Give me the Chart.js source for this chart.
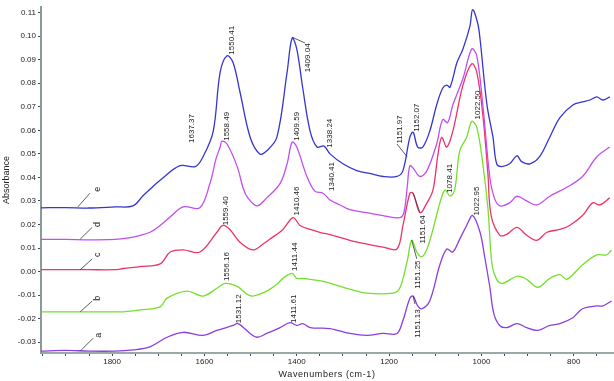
<!DOCTYPE html>
<html>
<head>
<meta charset="utf-8">
<script src="https://cdn.jsdelivr.net/npm/chart.js@4/dist/chart.umd.min.js"></script>
<style>
  html, body { margin: 0; padding: 0; background: #fff; }
  #wrap { width: 614px; height: 381px; }
</style>
</head>
<body>
<div id="wrap"><canvas id="grafico" width="614" height="381"></canvas></div>
<script>
// espectros (numero de onda, absorbancia)
const wnE = [1954,1900,1850,1794,1755,1733,1718,1696,1653,1620,1603,1581,1566,1551,1538,1523,1501,1480,1465,1443,1421,1410,1400,1387,1371,1356,1341,1328,1300,1270,1242,1213,1183,1170,1155,1148,1138,1127,1112,1097,1084,1075,1068,1053,1040,1025,1019,1008,1003,988,975,967,956,939,923,913,895,874,852,830,802,781,765,750,737,722];
const absE = [0.0271,0.0272,0.0270,0.0275,0.0279,0.0322,0.0350,0.0388,0.0450,0.0446,0.0488,0.0596,0.0846,0.0917,0.0888,0.0763,0.0571,0.0500,0.0513,0.0571,0.0846,0.0992,0.0946,0.0779,0.0596,0.0529,0.0533,0.0500,0.0458,0.0429,0.0417,0.0404,0.0404,0.0429,0.0571,0.0592,0.0529,0.0529,0.0596,0.0708,0.0779,0.0792,0.0783,0.0888,0.0946,0.1042,0.1113,0.1054,0.0988,0.0708,0.0571,0.0458,0.0446,0.0458,0.0492,0.0467,0.0458,0.0488,0.0571,0.0654,0.0708,0.0721,0.0729,0.0742,0.0729,0.0742];

const wnD = [1954,1900,1850,1794,1768,1739,1718,1696,1674,1646,1610,1588,1575,1566,1562,1551,1529,1516,1506,1486,1465,1436,1421,1410,1400,1378,1361,1343,1328,1306,1285,1248,1213,1177,1168,1161,1155,1147,1133,1118,1097,1084,1073,1062,1040,1021,1010,997,982,972,960,939,923,902,880,852,815,781,750,722];
const absD = [0.0137,0.0137,0.0135,0.0137,0.0142,0.0154,0.0167,0.0196,0.0233,0.0275,0.0271,0.0375,0.0479,0.0529,0.0554,0.0542,0.0446,0.0354,0.0313,0.0279,0.0313,0.0375,0.0458,0.0550,0.0529,0.0404,0.0342,0.0333,0.0304,0.0283,0.0263,0.0250,0.0238,0.0229,0.0250,0.0354,0.0450,0.0437,0.0404,0.0429,0.0542,0.0646,0.0633,0.0708,0.0820,0.0946,0.0917,0.0708,0.0404,0.0313,0.0279,0.0292,0.0320,0.0300,0.0283,0.0320,0.0358,0.0404,0.0488,0.0529];

const wnC = [1954,1900,1850,1794,1776,1739,1696,1674,1646,1610,1573,1560,1545,1523,1495,1473,1458,1430,1408,1393,1371,1350,1322,1285,1248,1213,1183,1170,1155,1148,1133,1118,1105,1094,1086,1075,1062,1040,1021,1010,997,986,979,960,945,923,902,880,858,830,809,781,759,744,722];
const absC = [0.0008,0.0008,0.0008,0.0008,0.0013,0.0021,0.0033,0.0083,0.0092,0.0083,0.0167,0.0196,0.0179,0.0125,0.0092,0.0117,0.0138,0.0179,0.0229,0.0196,0.0179,0.0167,0.0154,0.0133,0.0117,0.0104,0.0096,0.0196,0.0333,0.0333,0.0250,0.0292,0.0346,0.0500,0.0570,0.0529,0.0596,0.0792,0.0883,0.0846,0.0667,0.0417,0.0238,0.0154,0.0158,0.0188,0.0154,0.0133,0.0167,0.0179,0.0196,0.0238,0.0292,0.0283,0.0313];

const wnB = [1954,1900,1850,1794,1776,1739,1696,1681,1638,1603,1573,1555,1529,1508,1495,1465,1443,1430,1410,1400,1387,1343,1285,1248,1192,1177,1161,1151,1140,1129,1118,1105,1090,1079,1068,1058,1047,1032,1021,1010,997,986,977,967,954,923,902,878,852,830,815,781,750,729,718];
const absB = [-0.0171,-0.0171,-0.0171,-0.0171,-0.0171,-0.0163,-0.0150,-0.0113,-0.0083,-0.0104,-0.0071,-0.0050,-0.0063,-0.0096,-0.0104,-0.0083,-0.0054,-0.0029,-0.0008,-0.0029,-0.0029,-0.0042,-0.0075,-0.0092,-0.0092,-0.0071,0.0042,0.0133,0.0083,0.0063,0.0096,0.0179,0.0292,0.0346,0.0321,0.0346,0.0513,0.0571,0.0638,0.0613,0.0458,0.0271,0.0029,-0.0033,-0.0050,-0.0020,-0.0033,-0.0067,-0.0029,-0.0013,-0.0033,0.0029,0.0071,0.0071,0.0092];

const wnA = [1954,1900,1850,1794,1755,1718,1681,1646,1603,1573,1538,1527,1501,1486,1465,1436,1415,1400,1387,1371,1328,1285,1248,1213,1183,1170,1155,1148,1138,1129,1112,1090,1075,1062,1047,1032,1019,1003,993,982,973,960,945,923,902,878,852,830,802,781,750,737,718];
const absA = [-0.0338,-0.0335,-0.0338,-0.0338,-0.0333,-0.0320,-0.0279,-0.0258,-0.0271,-0.0250,-0.0229,-0.0221,-0.0263,-0.0279,-0.0263,-0.0238,-0.0217,-0.0229,-0.0221,-0.0238,-0.0242,-0.0263,-0.0271,-0.0263,-0.0263,-0.0208,-0.0113,-0.0104,-0.0146,-0.0158,-0.0125,0.0029,0.0096,0.0083,0.0138,0.0196,0.0238,0.0167,0.0063,-0.0063,-0.0180,-0.0230,-0.0238,-0.0221,-0.0238,-0.0250,-0.0229,-0.0221,-0.0196,-0.0158,-0.0146,-0.0146,-0.0125];

const cores = ['#3535d2', '#c24ef0', '#ee3366', '#74e02c', '#8a3ee0'];

// rotulos dos picos (texto, posicao do centro em unidades dos eixos)
const picoTexto = ['1637.37','1550.41','1409.04','1338.24','1558.49','1409.59','1340.41','1151.97','1152.07','1022.50','1078.41','1022.95','1559.40','1410.46','1151.64','1556.16','1411.44','1151.25','1531.12','1411.61','1151.13'];
const picoWn = [1627,1540,1376,1328,1551,1400,1324,1177,1140,1008,1068,1010,1553,1400,1127,1551,1404,1138,1525,1406,1138];
const picoAbs = [0.0608,0.0983,0.0908,0.0588,0.0617,0.0617,0.0404,0.0604,0.0654,0.0708,0.0396,0.0300,0.0258,0.0300,0.0179,0.0021,0.0063,-0.0013,-0.0158,-0.0158,-0.0221];

// letras das curvas
const letraTexto = ['e','d','c','b','a'];
const letraWn = [1832,1832,1832,1832,1830];
const letraAbs = [0.035,0.020,0.0071,-0.0113,-0.0271];

// linhas de chamada: [wn1, abs1, wn2, abs2]
const chamadas = [
  [1410,0.0996,1382,0.0971],
  [1183,0.0542,1161,0.0488],
  [1148,0.0333,1133,0.0250],
  [1151,0.0133,1140,0.0054],
  [1148,-0.0104,1144,-0.0138],
  [1874,0.0275,1848,0.0333],
  [1869,0.0138,1843,0.0188],
  [1869,0.0008,1843,0.0054],
  [1869,-0.0171,1843,-0.0125],
  [1869,-0.0338,1841,-0.0283]
];

function serie(wn, abs, cor) {
    return {
        data: wn.map((w, i) => ({x: w, y: abs[i]})),
        borderColor: cor,
        borderWidth: 1.3,
        pointRadius: 0,
        tension: 0.35,
        fill: false
    };
}

const rotulos = {
    id: 'rotulos',
    afterDatasetsDraw(chart) {
        const ctx = chart.ctx;
        const sx = chart.scales.x, sy = chart.scales.y;
        ctx.save();
        ctx.strokeStyle = '#333';
        ctx.lineWidth = 0.8;
        chamadas.forEach(c => {
            ctx.beginPath();
            ctx.moveTo(sx.getPixelForValue(c[0]), sy.getPixelForValue(c[1]));
            ctx.lineTo(sx.getPixelForValue(c[2]), sy.getPixelForValue(c[3]));
            ctx.stroke();
        });
        ctx.fillStyle = '#222';
        ctx.textAlign = 'center';
        ctx.textBaseline = 'middle';
        const girado = (txt, x, y, fonte) => {
            ctx.save();
            ctx.translate(x, y);
            ctx.rotate(-Math.PI / 2);
            ctx.font = fonte;
            ctx.fillText(txt, 0, 0);
            ctx.restore();
        };
        picoTexto.forEach((t, i) => {
            girado(t, sx.getPixelForValue(picoWn[i]), sy.getPixelForValue(picoAbs[i]), '8px "Liberation Sans", Arial');
        });
        letraTexto.forEach((t, i) => {
            girado(t, sx.getPixelForValue(letraWn[i]), sy.getPixelForValue(letraAbs[i]), '9px "Liberation Sans", Arial');
        });
        // titulos dos eixos
        girado('Absorbance', 7, 180, '9px "Liberation Sans", Arial');
        ctx.font = '9px "Liberation Sans", Arial';
        ctx.letterSpacing = '0.6px';
        ctx.fillText('Wavenumbers (cm-1)', 327, 375);
        ctx.restore();
    }
};

new Chart(document.getElementById('grafico'), {
    type: 'line',
    data: {
        datasets: [
            serie(wnE, absE, cores[0]),
            serie(wnD, absD, cores[1]),
            serie(wnC, absC, cores[2]),
            serie(wnB, absB, cores[3]),
            serie(wnA, absA, cores[4])
        ]
    },
    options: {
        responsive: false,
        animation: false,
        layout: { padding: { top: 0, right: 1, left: 0, bottom: 0 } },
        plugins: {
            legend: { display: false },
            tooltip: { enabled: false }
        },
        scales: {
            x: {
                type: 'linear',
                reverse: true,
                min: 715,
                max: 1954,
                afterFit: s => { s.height = 28; },
                afterBuildTicks: s => {
                    const t = [];
                    for (let v = 750; v <= 1950; v += 50) t.push({value: v});
                    s.ticks = t;
                },
                ticks: {
                    autoSkip: false,
                    maxRotation: 0,
                    padding: 1,
                    color: '#222',
                    font: { family: '"Liberation Sans", Arial', size: 8 },
                    callback: v => (v % 200 === 0 ? String(v) : '')
                },
                grid: { drawOnChartArea: false, tickLength: 3, color: '#445', lineWidth: 1 },
                border: { color: '#9aa8a8', width: 2 }
            },
            y: {
                min: -0.0346,
                max: 0.1125,
                afterFit: s => { s.width = 41; },
                afterBuildTicks: s => {
                    const t = [];
                    for (let k = -3; k <= 11; k++) t.push({value: k / 100});
                    s.ticks = t;
                },
                ticks: {
                    autoSkip: false,
                    padding: 2,
                    color: '#222',
                    font: { family: '"Liberation Sans", Arial', size: 8 },
                    callback: v => v.toFixed(2)
                },
                grid: { drawOnChartArea: false, tickLength: 3, color: '#445', lineWidth: 1 },
                border: { color: '#8a9a9a', width: 2, dash: [1, 1] }
            }
        }
    },
    plugins: [rotulos]
});
</script>
</body>
</html>
